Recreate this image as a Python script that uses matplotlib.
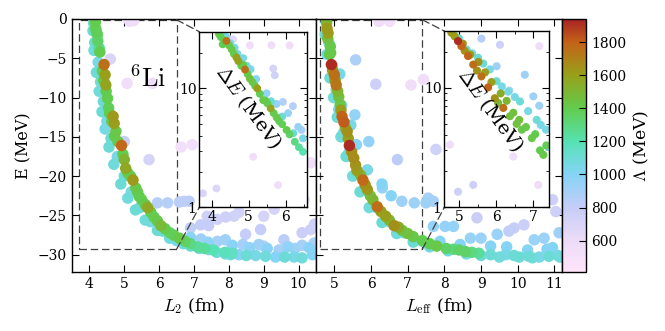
import numpy as np
import matplotlib
matplotlib.use("Agg")
import matplotlib.pyplot as plt
from matplotlib.colors import LinearSegmentedColormap, Normalize
from matplotlib.patches import Rectangle, ConnectionPatch
from matplotlib.cm import ScalarMappable
from matplotlib.ticker import MultipleLocator

plt.rcParams.update({
    "font.family": "serif",
    "font.serif": ["DejaVu Serif"],
    "mathtext.fontset": "cm",
    "font.size": 10,
    "xtick.direction": "in",
    "ytick.direction": "in",
    "xtick.top": True,
    "ytick.right": True,
    "xtick.major.size": 5,
    "ytick.major.size": 5,
    "xtick.minor.size": 2.5,
    "ytick.minor.size": 2.5,
    "axes.linewidth": 1.0,
})

# ---------------- data: left panel (L2, E, Lambda) ----------------
# high-Lambda band
left_band_L = [4.18, 4.23, 4.28, 4.42, 4.45, 4.47, 4.52, 4.55, 4.68, 4.71, 4.76, 4.92, 5.0, 5.04,
               5.25, 5.33, 5.43, 5.67, 5.85, 6.05, 6.3, 6.58, 7.1, 7.89,
               4.17, 4.2, 4.24, 4.3, 4.37, 4.41, 4.48, 4.58, 4.64, 4.72, 4.82, 4.96, 5.1, 5.18,
               5.38, 5.5, 5.6, 5.76, 5.95, 6.17, 6.42, 6.75, 6.9, 7.3, 7.55, 8.1]
left_band_E = [-1.2, -2.0, -3.7, -5.8, -7.1, -8.4, -10.1, -11.3, -12.4, -13.3, -14.3, -16.1, -17.9, -19.0,
               -20.5, -21.5, -22.6, -24.0, -25.2, -26.3, -27.2, -27.9, -29.0, -29.7,
               -0.4, -1.6, -2.8, -4.2, -6.6, -7.8, -9.2, -12.0, -13.0, -14.9, -15.6, -17.2, -19.6, -20.0,
               -22.0, -23.0, -23.6, -24.6, -25.7, -26.7, -27.5, -28.3, -28.6, -29.2, -29.4, -29.8]
left_band_Lam = [1380, 1350, 1250, 1760, 1600, 1580, 1400, 1380, 1620, 1600, 1420, 1780, 1520, 1560,
                 1620, 1420, 1400, 1560, 1380, 1480, 1350, 1420, 1250, 1180,
                 1400, 1380, 1360, 1400, 1380, 1420, 1400, 1400, 1380, 1400, 1420, 1400, 1420, 1380,
                 1400, 1380, 1420, 1400, 1420, 1400, 1380, 1350, 1300, 1250, 1200, 1150]
# cyan / light-blue bands
left_cyan_L = [4.12, 4.1, 4.15, 4.13, 4.25, 4.2, 4.32, 4.28, 4.4, 4.36, 4.5, 4.45, 4.62, 4.56, 4.8, 4.7,
               5.0, 4.9, 5.2, 5.1, 5.45, 5.32, 5.75, 5.6, 6.1, 5.95, 6.5, 6.3, 6.9, 6.7, 7.42, 7.15,
               7.9, 7.65, 8.29, 8.05, 8.77, 8.5, 9.34, 9.05, 9.87, 9.6, 10.4, 10.1,
               6.9, 7.4, 8.1, 8.6, 9.1, 9.7, 10.3]
left_cyan_E = [-0.5, -1.5, -3.0, -4.0, -5.5, -6.8, -8.0, -9.2, -10.5, -11.8, -13.0, -14.0, -15.2, -16.3,
               -17.5, -18.5, -20.0, -21.0, -22.0, -22.8, -24.0, -24.3, -25.8, -25.6, -27.0, -26.9, -28.2,
               -27.9, -28.9, -28.6, -29.35, -29.2, -29.9, -29.7, -30.0, -30.0, -30.1, -30.1, -30.3, -30.2,
               -30.3, -30.3, -30.0, -30.4,
               -27.8, -28.4, -28.8, -29.1, -29.2, -29.0, -29.1]
left_cyan_Lam = [1100, 1100, 1100, 1080, 1050, 1100, 1100, 1080, 1100, 1100, 1050, 1050, 1100, 1100,
                 1050, 1080, 1100, 1100, 1050, 1080, 1100, 1100, 1050, 1080, 1100, 1100, 1050, 1080,
                 1100, 1100, 1050, 1080, 1050, 1100, 1000, 1080, 1050, 1100, 1000, 1080, 1050, 1100,
                 1000, 1080,
                 980, 960, 980, 960, 980, 960, 980]
# scattered lower-Lambda points
left_pale_L = [5.95, 6.24, 6.58, 6.86,
               7.2, 7.67, 7.9, 8.4, 8.86, 9.44, 9.9, 10.1, 10.45, 10.5,
               6.71, 6.9, 7.19, 7.42, 7.38, 7.67, 7.91, 8.15, 8.29, 8.48, 8.91, 9.0, 9.3, 9.58, 9.0,
               10.1, 10.35, 10.16, 10.5, 10.46,
               5.27, 5.15, 4.6, 5.08, 5.81, 5.0, 5.71, 6.63, 6.95, 10.35]
left_pale_E = [-23.4, -23.4, -23.3, -23.2,
               -28.0, -28.3, -28.1, -28.7, -28.7, -29.4, -29.2, -28.8, -28.5, -29.6,
               -23.2, -26.6, -26.2, -26.3, -25.1, -25.5, -25.2, -25.1, -24.6, -27.4, -26.8, -25.1, -24.2,
               -28.1, -28.9,
               -27.2, -26.8, -23.0, -26.4, -26.1,
               -0.2, -0.3, -5.1, -8.2, -8.2, -15.6, -17.9, -16.3, -16.0, -18.3]
left_pale_Lam = [850, 850, 830, 830,
                 920, 900, 920, 900, 920, 900, 920, 900, 880, 950,
                 800, 820, 800, 800, 760, 740, 760, 740, 740, 800, 800, 720, 720, 830, 850,
                 780, 760, 650, 740, 760,
                 560, 560, 700, 560, 560, 800, 720, 540, 540, 560]

# ---------------- data: right panel (Leff, E, Lambda) ----------------
right_band_L = [4.8, 4.83, 4.89, 4.9, 4.92, 5.0, 5.05, 5.12, 5.16, 5.21, 5.26, 5.35, 5.41, 5.53, 5.58,
                5.78, 5.9, 5.98, 6.17, 6.4, 6.63, 6.85, 7.15, 7.79, 8.25, 8.57, 8.94,
                4.79, 4.82, 4.87, 4.95, 5.02, 5.09, 5.18, 5.3, 5.38, 5.47, 5.62, 5.72, 5.84, 6.05,
                6.27, 6.5, 6.75, 7.0, 7.4, 7.6, 8.05, 8.4, 8.75]
right_band_E = [-1.2, -1.8, -3.5, -4.3, -5.8, -7.1, -8.4, -9.9, -10.9, -12.4, -13.1, -14.3, -16.1, -17.7,
                -18.6, -20.5, -21.7, -22.5, -23.9, -25.1, -26.3, -26.9, -27.7, -28.9, -29.3, -29.6, -29.8,
                -0.4, -2.5, -4.5, -6.5, -7.8, -9.2, -11.6, -13.8, -15.2, -16.9, -19.3, -19.9, -21.1, -23.0,
                -24.5, -25.6, -26.5, -27.3, -28.2, -28.6, -29.2, -29.4, -29.7]
right_band_Lam = [1620, 1600, 1420, 1400, 1920, 1760, 1740, 1450, 1420, 1800, 1820, 1650, 1920, 1660, 1640,
                  1780, 1620, 1450, 1760, 1600, 1650, 1450, 1420, 1420, 1300, 1350, 1250,
                  1500, 1450, 1420, 1600, 1650, 1500, 1600, 1500, 1600, 1650, 1600, 1500, 1650, 1500,
                  1600, 1500, 1550, 1450, 1400, 1400, 1350, 1350, 1300]
right_cyan_L = [4.78, 4.75, 4.85, 4.8, 4.95, 4.88, 5.05, 4.98, 5.12, 5.08, 5.25, 5.18, 5.4, 5.32, 5.6, 5.5,
                5.85, 5.7, 6.15, 5.95, 6.5, 6.3, 6.9, 6.7, 7.4, 7.15, 7.6, 8.1, 8.6, 9.0,
                9.26, 9.5, 9.67, 9.9, 10.04, 10.4, 10.59, 10.85, 11.1, 11.15, 10.3,
                7.88, 8.43, 9.26, 9.7, 10.27, 10.8, 10.95,
                5.15, 5.2, 5.45, 5.6, 5.9, 6.3, 6.55]
right_cyan_E = [-0.5, -2.0, -3.0, -4.5, -6.0, -7.5, -9.0, -10.0, -11.5, -12.5, -14.5, -15.0, -17.0, -17.5,
                -19.5, -20.0, -21.8, -22.0, -24.0, -24.0, -25.8, -25.9, -27.2, -27.3, -28.3, -28.4, -29.0,
                -29.5, -29.9, -30.1,
                -30.0, -30.3, -30.0, -30.1, -30.3, -30.4, -30.3, -30.2, -30.1, -30.3, -30.2,
                -28.3, -28.7, -28.9, -29.0, -29.4, -29.3, -29.1,
                -7.0, -11.0, -13.5, -16.0, -19.2, -21.0, -22.5]
right_cyan_Lam = [1100, 1100, 1100, 1080, 1050, 1100, 1100, 1080, 1050, 1100, 1100, 1080, 1050, 1100,
                  1100, 1080, 1050, 1100, 1100, 1080, 1050, 1100, 1100, 1080, 1050, 1100, 1080, 1100,
                  1080, 1100,
                  1100, 1080, 1050, 1100, 1100, 1080, 1050, 1100, 1050, 1080, 1100,
                  1000, 1000, 1000, 1000, 1000, 1000, 1000,
                  1050, 1000, 1050, 1000, 1050, 1000, 1000]
right_pale_L = [5.58, 5.56, 5.94, 6.31, 6.84, 7.18, 7.5, 7.56, 7.7, 7.7, 8.02, 8.25, 8.71, 9.0,
                9.44, 10.45, 10.72, 11.13,
                6.13, 6.72, 7.77, 8.89, 9.76, 9.9, 10.17, 11.04, 10.95,
                6.22, 6.51, 7.09, 7.43]
right_pale_E = [-5.2, -12.2, -15.6, -21.5, -23.2, -23.4, -23.4, -22.8, -23.2, -26.4, -26.4, -26.4, -27.9, -27.9,
                -27.4, -28.1, -27.9, -27.2,
                -8.3, -17.9, -16.6, -25.3, -27.0, -26.6, -26.2, -24.5, -23.0,
                -0.3, -0.3, -8.4, -7.7]
right_pale_Lam = [880, 950, 950, 950, 920, 920, 920, 900, 900, 950, 950, 950, 940, 930,
                  930, 930, 930, 920,
                  760, 830, 750, 780, 820, 800, 780, 760, 760,
                  560, 540, 560, 560]

# ---------------- data: left inset (L2, Delta E, Lambda) ----------------
ins_left_L = [4.2, 4.3, 4.4, 4.54, 4.67, 4.72, 4.8, 4.9, 5.03, 5.23, 5.39, 5.5, 5.59, 5.75, 5.9, 6.02, 6.24, 6.46,
              4.25, 4.35, 4.47, 4.6, 4.85, 4.97, 5.1, 5.17, 5.3, 5.45, 5.67, 5.82, 6.1, 6.35,
              4.3, 4.5, 4.7, 4.95, 5.2, 5.48, 5.75, 6.06, 6.33, 6.46, 5.6, 5.9, 6.2, 4.4, 4.62, 4.85, 5.05,
              4.58, 5.03, 5.61, 6.1, 5.7, 5.66, 5.92, 6.19, 6.42, 5.12, 5.79, 3.77, 4.13]
ins_left_dE = [28.6, 23.5, 25.1, 21.3, 18.2, 17.0, 15.5, 14.4, 12.1, 10.0, 7.97, 7.5, 6.8, 5.7, 5.0, 4.47, 3.56, 2.93,
               27.0, 25.0, 23.0, 19.5, 15.8, 13.2, 11.3, 10.5, 9.0, 7.9, 6.2, 5.3, 4.1, 3.2,
               29.0, 24.0, 19.5, 15.5, 12.0, 9.1, 7.4, 6.2, 4.75, 3.8, 7.8, 5.8, 4.2, 27.0, 22.0, 18.0, 14.5,
               25.9, 23.0, 23.1, 23.0, 12.9, 14.7, 7.7, 7.1, 4.47, 2.66, 1.54, 1.31, 1.44]
ins_left_Lam = [1400, 1400, 1750, 1420, 1600, 1580, 1400, 1760, 1450, 1600, 1420, 1400, 1560, 1420, 1380, 1400, 1300, 1200,
                1380, 1400, 1400, 1400, 1420, 1400, 1420, 1400, 1400, 1400, 1400, 1380, 1350, 1250,
                1050, 1050, 1050, 1050, 1000, 950, 950, 950, 950, 1050, 1100, 1100, 1100, 1050, 1050, 1050, 1050,
                650, 560, 560, 560, 750, 720, 850, 850, 900, 560, 560, 700, 680]

# ---------------- data: right inset (Leff, Delta E, Lambda) ----------------
ins_right_L = [4.79, 4.97, 5.06, 5.15, 5.24, 5.38, 5.48, 5.6, 5.78, 5.96, 6.05, 6.19, 6.37, 6.55, 6.69, 6.96, 7.18, 7.27,
               4.88, 5.1, 5.3, 5.52, 5.7, 5.87, 6.12, 6.28, 6.46, 6.62, 6.8, 7.05, 7.35,
               4.85, 5.2, 5.35, 5.51, 5.83, 6.01, 6.15, 6.32, 6.5, 6.64, 6.86, 7.09, 7.2, 7.34, 7.4, 5.0, 5.65,
               5.6, 6.1, 7.16, 6.01, 6.77, 6.35, 7.0, 7.16, 4.75, 6.46, 5.38, 4.97, 7.13]
ins_right_dE = [29.0, 24.7, 22.4, 20.5, 18.5, 15.7, 14.0, 12.5, 10.1, 8.2, 7.5, 6.8, 5.8, 5.0, 4.47, 3.8, 3.0, 2.75,
                27.0, 23.5, 19.0, 16.5, 13.5, 11.2, 9.0, 7.8, 6.2, 5.4, 4.7, 4.1, 3.3,
                29.0, 21.0, 19.5, 17.9, 14.3, 11.4, 10.3, 9.3, 8.4, 7.7, 6.4, 5.4, 4.9, 4.47, 3.2, 26.0, 16.0,
                25.9, 23.0, 22.4, 15.2, 12.9, 9.5, 8.5, 7.1, 3.35, 2.66, 1.54, 1.35, 1.54]
ins_right_Lam = [1620, 1920, 1800, 1650, 1800, 1760, 1650, 1760, 1800, 1650, 1500, 1760, 1450, 1450, 1420, 1420, 1400, 1420,
                 1600, 1650, 1600, 1650, 1600, 1600, 1550, 1500, 1450, 1450, 1420, 1400, 1380,
                 1100, 1100, 1050, 1100, 1050, 1100, 1050, 1050, 1050, 1100, 1050, 1100, 1050, 1050, 1050, 1100, 1100,
                 850, 760, 560, 920, 920, 920, 920, 920, 560, 560, 760, 760, 560]

# ---------------- style ----------------
cmap = LinearSegmentedColormap.from_list("lam", [
    (0.00, "#ffe4fa"),
    (0.125, "#ecdcf8"),
    (0.255, "#c6cdf8"),
    (0.386, "#84d4f6"),
    (0.516, "#56e2b4"),
    (0.647, "#62cc4e"),
    (0.778, "#98a01a"),
    (0.908, "#c46418"),
    (1.00, "#a82424"),
])
norm = Normalize(vmin=410, vmax=1940)

W, H = 665, 331
fig = plt.figure(figsize=(W / 100, H / 100), dpi=100)

def fr(x0, y0, x1, y1):
    return [x0 / W, 1 - y1 / H, (x1 - x0) / W, (y1 - y0) / H]

axL = fig.add_axes(fr(72, 19, 316, 272))
axR = fig.add_axes(fr(316, 19, 561.7, 272))
cax = fig.add_axes(fr(561.7, 19, 586, 272))
insL = fig.add_axes(fr(199.3, 31.7, 306.7, 207.3), zorder=5)
insR = fig.add_axes(fr(444.3, 31, 549.3, 207.3), zorder=5)

def scat(ax, L, E, lam, s):
    L = np.asarray(L); E = np.asarray(E); lam = np.asarray(lam)
    o = np.argsort(lam, kind="stable")
    ax.scatter(L[o], E[o], c=lam[o], cmap=cmap, norm=norm, s=s, linewidths=0, zorder=2)

scat(axL, left_band_L + left_cyan_L + left_pale_L,
     left_band_E + left_cyan_E + left_pale_E,
     left_band_Lam + left_cyan_Lam + left_pale_Lam, 68)
scat(axR, right_band_L + right_cyan_L + right_pale_L,
     right_band_E + right_cyan_E + right_pale_E,
     right_band_Lam + right_cyan_Lam + right_pale_Lam, 68)
scat(insL, ins_left_L, ins_left_dE, ins_left_Lam, 32)
scat(insR, ins_right_L, ins_right_dE, ins_right_Lam, 34)

for ax, xl, xt in [(axL, (3.5, 10.5), range(4, 11)), (axR, (4.5, 11.2), range(5, 12))]:
    ax.set_xlim(*xl)
    ax.set_ylim(-32.2, 0)
    ax.set_xticks(list(xt))
    ax.set_yticks([0, -5, -10, -15, -20, -25, -30])
axR.set_yticklabels([])
axL.set_ylabel("E (MeV)", fontsize=11.5)
axL.set_xlabel(r"$L_2$ (fm)", fontsize=12.5)
axR.set_xlabel(r"$L_{\rm eff}$ (fm)", fontsize=12.5)

axL.text(5.67, -7.6, r"$^{6}\mathrm{Li}$", fontsize=19, ha="center", va="center", zorder=3)

for ins, xl, xt in [(insL, (3.67, 6.56), [4, 5, 6]), (insR, (4.6, 7.43), [5, 6, 7])]:
    ins.set_yscale("log")
    ins.set_ylim(1, 30)
    ins.set_xlim(*xl)
    ins.set_xticks(xt)
    ins.xaxis.set_minor_locator(MultipleLocator(0.5))
    ins.set_yticks([1, 10])
    ins.set_yticklabels(["1", "10"])
    ins.tick_params(axis="both", labelsize=10, pad=2)
insL.text(0.455, 0.57, r"$\Delta E$ (MeV)", transform=insL.transAxes, rotation=-54,
          fontsize=14, ha="center", va="center", zorder=4)
insR.text(0.44, 0.55, r"$\Delta E$ (MeV)", transform=insR.transAxes, rotation=-54,
          fontsize=14, ha="center", va="center", zorder=4)

# dashed zoom rectangles and connectors
dash = dict(color="0.25", lw=0.9, linestyle=(0, (6, 3)))
for ax, ins, x0, x1 in [(axL, insL, 3.7, 6.5), (axR, insR, 4.6, 7.4)]:
    ax.add_patch(Rectangle((x0, -29.3), x1 - x0, 29.2, fill=False, zorder=1, **dash))
    for ya, yb in [(-0.1, 1), (-29.3, 0)]:
        cp = ConnectionPatch(xyA=(x1, ya), coordsA=ax.transData, xyB=(0, yb), coordsB=ins.transAxes,
                             zorder=1, **dash)
        fig.add_artist(cp)

sm = ScalarMappable(norm=norm, cmap=cmap)
cb = fig.colorbar(sm, cax=cax, ticks=[600, 800, 1000, 1200, 1400, 1600, 1800])
cb.ax.tick_params(direction="in", length=5, labelsize=10)
cb.set_label(r"$\Lambda$ (MeV)", fontsize=12.5)

fig.savefig("out.png", dpi=100)
